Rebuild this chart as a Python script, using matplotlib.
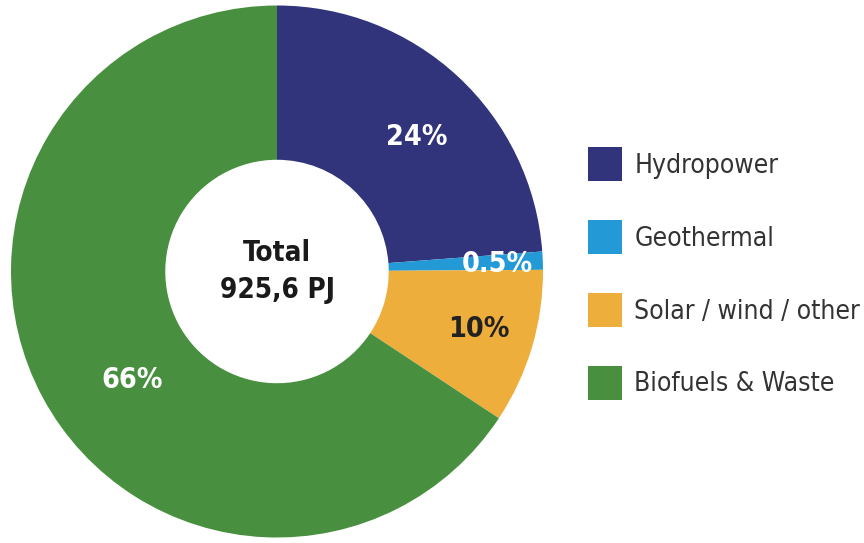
import numpy as np
import matplotlib.pyplot as plt
from matplotlib.font_manager import FontProperties

plt.rcParams['font.family'] = ['DejaVu Sans']
plt.rcParams['font.stretch'] = 'condensed'

# shares as drawn (labels as printed)
sources = ['Hydropower', 'Geothermal', 'Solar / wind / other', 'Biofuels & Waste']
shares = [23.8, 1.1, 9.4, 65.7]
pct_labels = ['24%', '0.5%', '10%', '66%']
colors = ['#31337b', '#2399d5', '#eeae3c', '#48903f']
label_colors = ['white', 'white', '#222222', 'white']
label_pos = [(44, 0.73), (2, 0.83), (-16, 0.79), (217, 0.68)]  # angle, radius
total_text = 'Total\n925,6 PJ'

fig = plt.figure(figsize=(8.64, 5.43), dpi=100)
ax = fig.add_axes([11 / 864, 5.5 / 543, 532 / 864, 532 / 543])
wedges, _ = ax.pie(shares, colors=colors, startangle=90, counterclock=False,
                   radius=1, wedgeprops=dict(width=0.58, linewidth=0))
ax.set_xlim(-1, 1)
ax.set_ylim(-1, 1)
ax.set_aspect('equal')
ax.axis('off')

for txt, col, (ang, r) in zip(pct_labels, label_colors, label_pos):
    a = np.deg2rad(ang)
    ax.text(r * np.cos(a), r * np.sin(a), txt, color=col, fontsize=20.5,
            fontweight='bold', ha='center', va='center', fontstretch='condensed')

ax.text(0, 0, total_text, ha='center', va='center', fontsize=20,
        fontweight='bold', color='#1a1a1a', linespacing=1.45, fontstretch='condensed')

fig.legend(wedges, sources, loc='upper left', bbox_to_anchor=(588 / 864, 1 - 147 / 543),
           frameon=False, prop=FontProperties(family='DejaVu Sans', stretch='condensed', size=19),
           handlelength=1.3, handleheight=1.6,
           labelspacing=1.48, handletextpad=0.45, borderpad=0, borderaxespad=0,
           labelcolor='#333333')

fig.savefig('out.png', dpi=100)
